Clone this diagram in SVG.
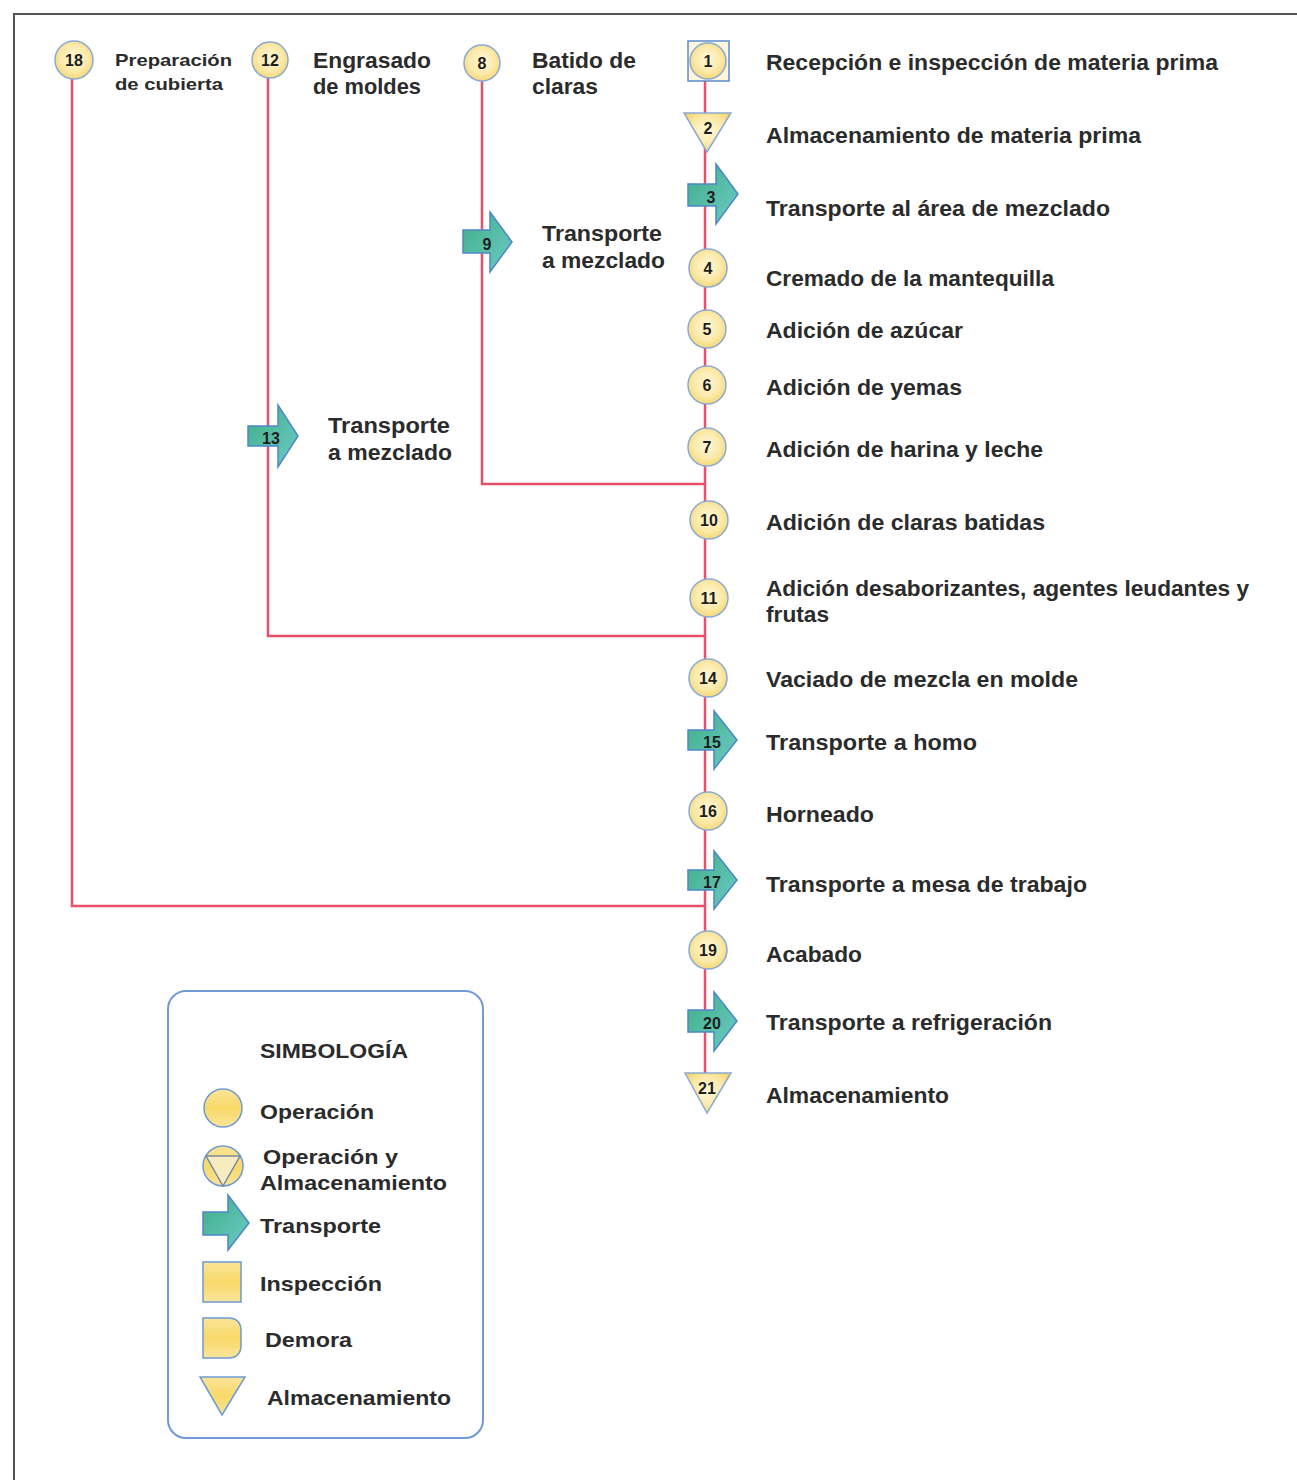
<svg xmlns="http://www.w3.org/2000/svg" width="1297" height="1480" viewBox="0 0 1297 1480">
<defs>
<radialGradient id="yel" cx="50%" cy="45%" r="60%">
<stop offset="0" stop-color="#fff8d8"/>
<stop offset="0.6" stop-color="#fbe9a8"/>
<stop offset="1" stop-color="#f3d36a"/>
</radialGradient>
<linearGradient id="yelL" x1="0" y1="0" x2="0" y2="1">
<stop offset="0" stop-color="#fbe49a"/>
<stop offset="0.5" stop-color="#f8d968"/>
<stop offset="1" stop-color="#fbe49a"/>
</linearGradient>
<linearGradient id="teal" x1="0" y1="0" x2="1" y2="1">
<stop offset="0" stop-color="#3fae86"/>
<stop offset="1" stop-color="#6ccbc6"/>
</linearGradient>
</defs>
<style>
.frame{stroke:#555;stroke-width:2;fill:none}
.con{stroke:#e8506a;stroke-width:2.5;fill:none}
.op{fill:url(#yel);stroke:#8aaad4;stroke-width:1.5}
.sq{fill:#fdf6dc;stroke:#5a8ad0;stroke-width:1.5}
.tr{fill:url(#teal);stroke:#4d86c8;stroke-width:1.5}
.yl{fill:url(#yelL);stroke:#6d9ad4;stroke-width:1.5}
.num{font-family:"Liberation Sans",Arial,sans-serif;font-weight:bold;font-size:16px;fill:#1e1e1e;text-anchor:middle}
.lbl{font-family:"Liberation Sans",Arial,sans-serif;font-weight:bold;font-size:22px;fill:#2b2b2b}
.sm{font-family:"Liberation Sans",Arial,sans-serif;font-weight:bold;font-size:17px;fill:#2b2b2b}
.lg{font-family:"Liberation Sans",Arial,sans-serif;font-weight:bold;font-size:21px;fill:#2b2b2b}
.box{fill:#fff;stroke:#6f9ad5;stroke-width:2}
</style>
<rect width="1297" height="1480" fill="#ffffff"/>
<path class="frame" d="M14,1480 V14 H1297"/>

<g id="connectors">
<path class="con" d="M705,62 V1092"/>
<path class="con" d="M482,66 V484 H705"/>
<path class="con" d="M268,62 V636 H705"/>
<path class="con" d="M72,62 V906 H705"/>
</g>

<g id="n18"><circle class="op" cx="74" cy="60" r="19"/><text class="num" x="74" y="66">18</text>
<text class="sm" x="115" y="66" textLength="117" lengthAdjust="spacingAndGlyphs">Preparación</text>
<text class="sm" x="115" y="90" textLength="108" lengthAdjust="spacingAndGlyphs">de cubierta</text></g>
<g id="n12"><circle class="op" cx="270" cy="60" r="18"/><text class="num" x="270" y="66">12</text>
<text class="lbl" x="313" y="68" textLength="118" lengthAdjust="spacingAndGlyphs">Engrasado</text>
<text class="lbl" x="313" y="94" textLength="108" lengthAdjust="spacingAndGlyphs">de moldes</text></g>
<g id="n8"><circle class="op" cx="482" cy="63" r="18"/><text class="num" x="482" y="69">8</text>
<text class="lbl" x="532" y="68" textLength="104" lengthAdjust="spacingAndGlyphs">Batido de</text>
<text class="lbl" x="532" y="94" textLength="66" lengthAdjust="spacingAndGlyphs">claras</text></g>
<g id="n9"><path class="tr" d="M463,230 H490 V212 L512,242 L490,272 V253 H463 Z"/><text class="num" x="487" y="250">9</text>
<text class="lbl" x="542" y="241" textLength="120" lengthAdjust="spacingAndGlyphs">Transporte</text>
<text class="lbl" x="542" y="268" textLength="123" lengthAdjust="spacingAndGlyphs">a mezclado</text></g>
<g id="n13"><path class="tr" d="M248,426 H278 V405 L298,436 L278,467 V446 H248 Z"/><text class="num" x="271" y="444">13</text>
<text class="lbl" x="328" y="433" textLength="122" lengthAdjust="spacingAndGlyphs">Transporte</text>
<text class="lbl" x="328" y="460" textLength="124" lengthAdjust="spacingAndGlyphs">a mezclado</text></g>

<g id="n1"><rect class="sq" x="688" y="41" width="41" height="40"/><circle class="op" cx="708" cy="61" r="18"/><text class="num" x="708" y="67">1</text>
<text class="lbl" x="766" y="70" textLength="452" lengthAdjust="spacingAndGlyphs">Recepción e inspección de materia prima</text></g>
<g id="n2"><path class="op" d="M684,113 H731 L707,152 Z"/><text class="num" x="708" y="134">2</text>
<text class="lbl" x="766" y="143" textLength="375" lengthAdjust="spacingAndGlyphs">Almacenamiento de materia prima</text></g>
<g id="n3"><path class="tr" d="M688,184 H716 V164 L738,194 L716,224 V206 H688 Z"/><text class="num" x="711" y="203">3</text>
<text class="lbl" x="766" y="216" textLength="344" lengthAdjust="spacingAndGlyphs">Transporte al área de mezclado</text></g>
<g id="n4"><circle class="op" cx="708" cy="268" r="19"/><text class="num" x="708" y="274">4</text>
<text class="lbl" x="766" y="286" textLength="288" lengthAdjust="spacingAndGlyphs">Cremado de la mantequilla</text></g>
<g id="n5"><circle class="op" cx="707" cy="329" r="19"/><text class="num" x="707" y="335">5</text>
<text class="lbl" x="766" y="338" textLength="197" lengthAdjust="spacingAndGlyphs">Adición de azúcar</text></g>
<g id="n6"><circle class="op" cx="707" cy="385" r="19"/><text class="num" x="707" y="391">6</text>
<text class="lbl" x="766" y="395" textLength="196" lengthAdjust="spacingAndGlyphs">Adición de yemas</text></g>
<g id="n7"><circle class="op" cx="707" cy="447" r="19"/><text class="num" x="707" y="453">7</text>
<text class="lbl" x="766" y="457" textLength="277" lengthAdjust="spacingAndGlyphs">Adición de harina y leche</text></g>
<g id="n10"><circle class="op" cx="709" cy="520" r="19"/><text class="num" x="709" y="526">10</text>
<text class="lbl" x="766" y="530" textLength="279" lengthAdjust="spacingAndGlyphs">Adición de claras batidas</text></g>
<g id="n11"><circle class="op" cx="709" cy="598" r="19"/><text class="num" x="709" y="604">11</text>
<text class="lbl" x="766" y="596" textLength="483" lengthAdjust="spacingAndGlyphs">Adición desaborizantes, agentes leudantes y</text>
<text class="lbl" x="766" y="622" textLength="63" lengthAdjust="spacingAndGlyphs">frutas</text></g>
<g id="n14"><circle class="op" cx="708" cy="678" r="19"/><text class="num" x="708" y="684">14</text>
<text class="lbl" x="766" y="687" textLength="312" lengthAdjust="spacingAndGlyphs">Vaciado de mezcla en molde</text></g>
<g id="n15"><path class="tr" d="M688,730 H714 V711 L737,740 L714,769 V750 H688 Z"/><text class="num" x="712" y="748">15</text>
<text class="lbl" x="766" y="750" textLength="211" lengthAdjust="spacingAndGlyphs">Transporte a homo</text></g>
<g id="n16"><circle class="op" cx="708" cy="811" r="19"/><text class="num" x="708" y="817">16</text>
<text class="lbl" x="766" y="822" textLength="108" lengthAdjust="spacingAndGlyphs">Horneado</text></g>
<g id="n17"><path class="tr" d="M688,870 H714 V851 L737,880 L714,909 V890 H688 Z"/><text class="num" x="712" y="888">17</text>
<text class="lbl" x="766" y="892" textLength="321" lengthAdjust="spacingAndGlyphs">Transporte a mesa de trabajo</text></g>
<g id="n19"><circle class="op" cx="708" cy="950" r="19"/><text class="num" x="708" y="956">19</text>
<text class="lbl" x="766" y="962" textLength="96" lengthAdjust="spacingAndGlyphs">Acabado</text></g>
<g id="n20"><path class="tr" d="M688,1010 H714 V992 L737,1021 L714,1051 V1032 H688 Z"/><text class="num" x="712" y="1029">20</text>
<text class="lbl" x="766" y="1030" textLength="286" lengthAdjust="spacingAndGlyphs">Transporte a refrigeración</text></g>
<g id="n21"><path class="op" d="M685,1073 H731 L707,1113 Z"/><text class="num" x="707" y="1094">21</text>
<text class="lbl" x="766" y="1103" textLength="183" lengthAdjust="spacingAndGlyphs">Almacenamiento</text></g>

<g id="legend">
<rect class="box" x="168" y="991" width="315" height="447" rx="18"/>
<text class="lg" x="260" y="1058" textLength="148" lengthAdjust="spacingAndGlyphs">SIMBOLOGÍA</text>
<circle class="yl" cx="223" cy="1108" r="19"/>
<text class="lg" x="260" y="1119" textLength="114" lengthAdjust="spacingAndGlyphs">Operación</text>
<circle class="yl" cx="223" cy="1166" r="20"/>
<path d="M206,1156 H240 L223,1186 Z" fill="#f6ecc0" stroke="#7a8aa0" stroke-width="1.5"/>
<text class="lg" x="263" y="1164" textLength="135" lengthAdjust="spacingAndGlyphs">Operación y</text>
<text class="lg" x="260" y="1190" textLength="187" lengthAdjust="spacingAndGlyphs">Almacenamiento</text>
<path class="tr" d="M203,1212 H228 V1195 L249,1223 L228,1250 V1235 H203 Z"/>
<text class="lg" x="260" y="1233" textLength="121" lengthAdjust="spacingAndGlyphs">Transporte</text>
<rect class="yl" x="203" y="1262" width="38" height="40"/>
<text class="lg" x="260" y="1291" textLength="122" lengthAdjust="spacingAndGlyphs">Inspección</text>
<path class="yl" d="M203,1318 H228 Q241,1318 241,1331 V1345 Q241,1358 228,1358 H203 Z"/>
<text class="lg" x="265" y="1347" textLength="87" lengthAdjust="spacingAndGlyphs">Demora</text>
<path class="yl" d="M200,1377 H245 L222,1415 Z"/>
<text class="lg" x="267" y="1405" textLength="184" lengthAdjust="spacingAndGlyphs">Almacenamiento</text>
</g>
</svg>
